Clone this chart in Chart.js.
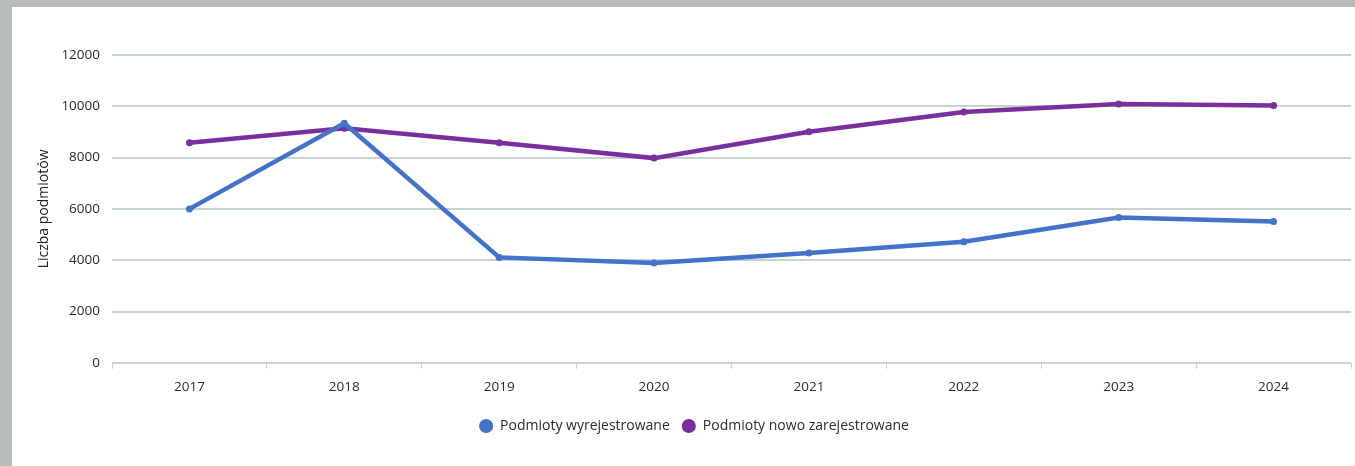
<!DOCTYPE html>
<html>
<head>
<meta charset="utf-8">
<script src="https://cdn.jsdelivr.net/npm/chart.js@4.4.1/dist/chart.umd.min.js"></script>
<style>
  html, body { margin: 0; padding: 0; }
  body { width: 1355px; height: 466px; background: #b8bcbc; position: relative; overflow: hidden; }
  .card { position: absolute; left: 12px; top: 7px; width: 1343px; height: 459px; background: #ffffff; }
  #lineChart { position: absolute; left: 0; top: 0; }
</style>
</head>
<body>
<div class="card">
  <canvas id="lineChart" width="1343" height="459"></canvas>
</div>

<script>
  // lata
  const years = ["2017", "2018", "2019", "2020", "2021", "2022", "2023", "2024"];
  // serie
  const deregistered = [6000, 9340, 4110, 3890, 4280, 4720, 5660, 5510];
  const newlyRegistered = [8580, 9140, 8580, 7980, 9010, 9780, 10090, 10030];
  const seriesNames = ["Podmioty wyrejestrowane", "Podmioty nowo zarejestrowane"];
  const yTitle = "Liczba podmiotów";

  const blue = "#4372c8";
  const purple = "#7a2f9f";
  const gridColor = "#c9d3d5";

  Chart.defaults.font.family = "'Open Sans', sans-serif";
  Chart.defaults.color = "#333333";

  new Chart("lineChart", {
    type: "line",
    data: {
      labels: years,
      datasets: [{
        label: seriesNames[0],
        data: deregistered,
        borderColor: blue,
        backgroundColor: blue,
        borderWidth: 4.5,
        pointRadius: 3.5,
        pointBorderWidth: 0,
        tension: 0,
        fill: false
      }, {
        label: seriesNames[1],
        data: newlyRegistered,
        borderColor: purple,
        backgroundColor: purple,
        borderWidth: 4.5,
        pointRadius: 3.5,
        pointBorderWidth: 0,
        tension: 0,
        fill: false
      }]
    },
    options: {
      responsive: false,
      animation: false,
      layout: {
        padding: {left: 24, right: 3, top: 48, bottom: 23}
      },
      scales: {
        y: {
          min: 0,
          max: 12000,
          ticks: {
            stepSize: 2000,
            padding: 12,
            color: "#2b2b2b",
            font: {size: 13.5},
            callback: (v) => String(v)
          },
          grid: {
            color: gridColor,
            lineWidth: 2,
            drawTicks: false
          },
          border: {display: false},
          title: {
            display: true,
            text: yTitle,
            color: "#222222",
            font: {size: 14},
            padding: 0
          },
          afterFit(scale) {
            scale.width = 76;
          }
        },
        x: {
          offset: true,
          ticks: {
            padding: 10,
            color: "#2b2b2b",
            font: {size: 13.5}
          },
          grid: {
            offset: true,
            drawOnChartArea: false,
            drawTicks: true,
            tickLength: 6,
            color: gridColor,
            lineWidth: 1
          },
          border: {display: false},
          afterFit(scale) {
            scale.height += 2;
          }
        }
      },
      plugins: {
        legend: {
          position: "bottom",
          labels: {
            usePointStyle: true,
            pointStyle: "circle",
            boxHeight: 10,
            padding: 12,
            color: "#2b2b2b",
            font: {size: 14}
          }
        },
        tooltip: {enabled: false}
      }
    }
  });
</script>
</body>
</html>
